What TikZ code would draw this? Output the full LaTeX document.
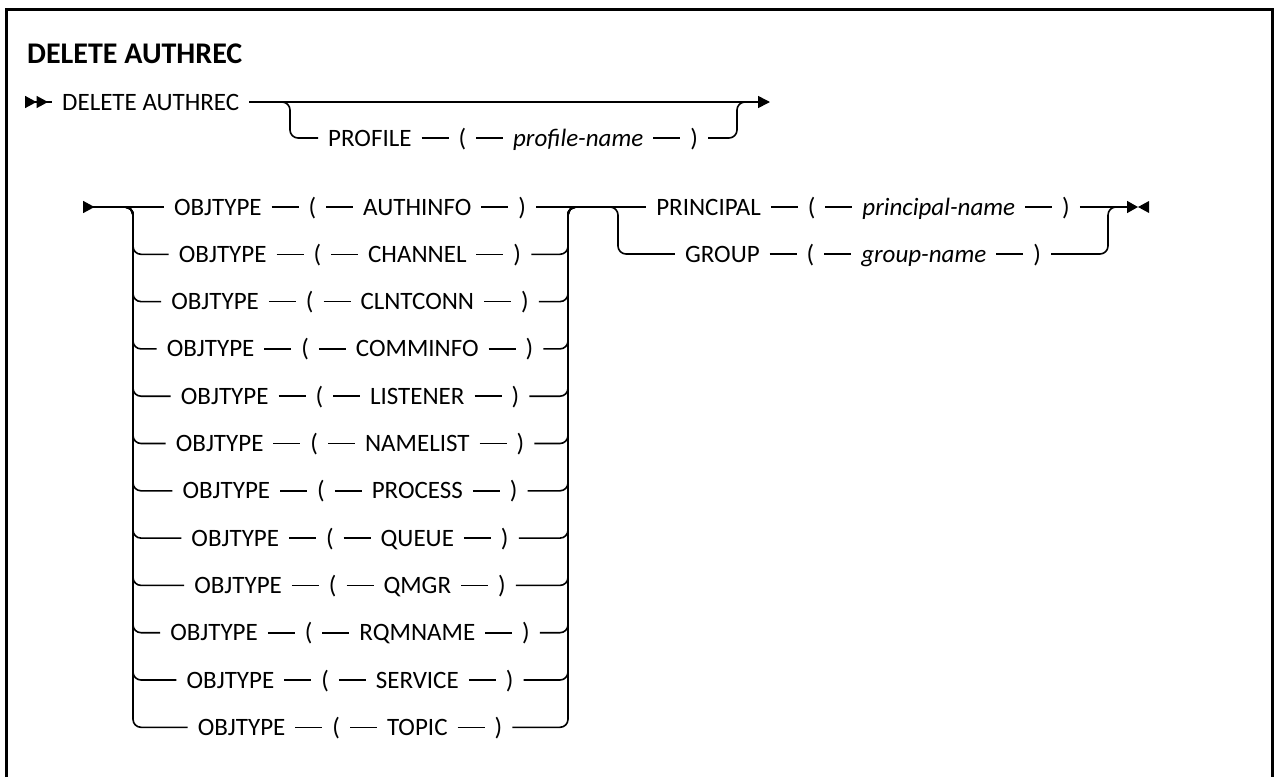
\documentclass[tikz,border=0pt]{standalone}
\usepackage{fontspec}
\setmainfont{Carlito}
\usetikzlibrary{arrows.meta,positioning}
\newcommand{\sepdash}{\hspace{10pt}\rule[7.2pt]{27pt}{1.6pt}\hspace{10pt}}

\begin{document}
\begin{tikzpicture}[
  x=1pt, y=-1pt,
  kw/.style={inner xsep=10pt, inner ysep=0pt, text height=16pt, text depth=0pt, font=\fontsize{25pt}{30pt}\selectfont},
  rail/.style={line width=1.6pt},
  loop/.style={rail, rounded corners=8pt},
]
\useasboundingbox (0,0) rectangle (1274,777);
\draw[line width=3pt] (6.5,777) -- (6.5,9.5) -- (1272.5,9.5) -- (1272.5,777);

\node[anchor=base west, inner sep=0pt, font=\fontsize{30pt}{36pt}\selectfont\bfseries] (title) at (27,63) {DELETE AUTHREC};

% first line
\coordinate (s1) at (25,102);
\coordinate (b1) at (270,102);
\coordinate (b1v) at (290,102);
\coordinate (b1r) at (737,102);
\coordinate (b1e) at (750,102);
\coordinate (e1) at (770,102);
\node[kw, anchor=west] (del) at (52,102) {DELETE AUTHREC};
\node[kw, anchor=west] (prof) at (318,138) {PROFILE\sepdash(\sepdash\textit{profile-name}\sepdash)};

\draw[rail, {Triangle[reversed,length=11.5pt,width=12pt]Triangle[reversed,length=11.5pt,width=12pt]}-] (s1) -- (del.west);
\draw[rail, -{Triangle[length=12pt,width=12pt]}] (del.east) -- (e1);
\draw[loop] (b1) -- (b1v) |- (prof.west);
\draw[loop] (prof.east) -| (b1r) -- (b1e);

% second line
\coordinate (s2) at (83,207);
\coordinate (ls) at (120,207);
\coordinate (lv) at (133,207);
\coordinate (rv) at (568,207);
\coordinate (rs) at (580,207);
\foreach \obj [count=\i] in {AUTHINFO,CHANNEL,CLNTCONN,COMMINFO,LISTENER,NAMELIST,PROCESS,QUEUE,QMGR,RQMNAME,SERVICE,TOPIC}
  \node[kw] (ot\i) at (350,{207+47.3*(\i-1)}) {OBJTYPE\sepdash(\sepdash\obj\sepdash)};

\draw[rail, {Triangle[reversed,length=11.5pt,width=12pt]}-] (s2) -- (ot1.west);
\foreach \i in {2,...,12} {
  \draw[loop] (ls) -- (lv) |- (ot\i.west);
  \draw[loop] (ot\i.east) -| (rv) -- (rs);
}

\coordinate (gs) at (605,207);
\coordinate (gv) at (618,207);
\coordinate (pv) at (1108,207);
\coordinate (pe) at (1120,207);
\coordinate (e2) at (1138,207);
\node[kw] (prin) at (863,207) {PRINCIPAL\sepdash(\sepdash\textit{principal-name}\sepdash)};
\node[kw] (grp) at (863,254) {GROUP\sepdash(\sepdash\textit{group-name}\sepdash)};

\draw[rail] (ot1.east) -- (prin.west);
\draw[loop] (gs) -- (gv) |- (grp.west);
\draw[loop] (grp.east) -| (pv) -- (pe);
\draw[rail, -{Triangle[length=11pt,width=12pt]}] (prin.east) -- (e2);
\fill (1149,201) -- (e2) -- (1149,213) -- cycle;
\end{tikzpicture}
\end{document}
